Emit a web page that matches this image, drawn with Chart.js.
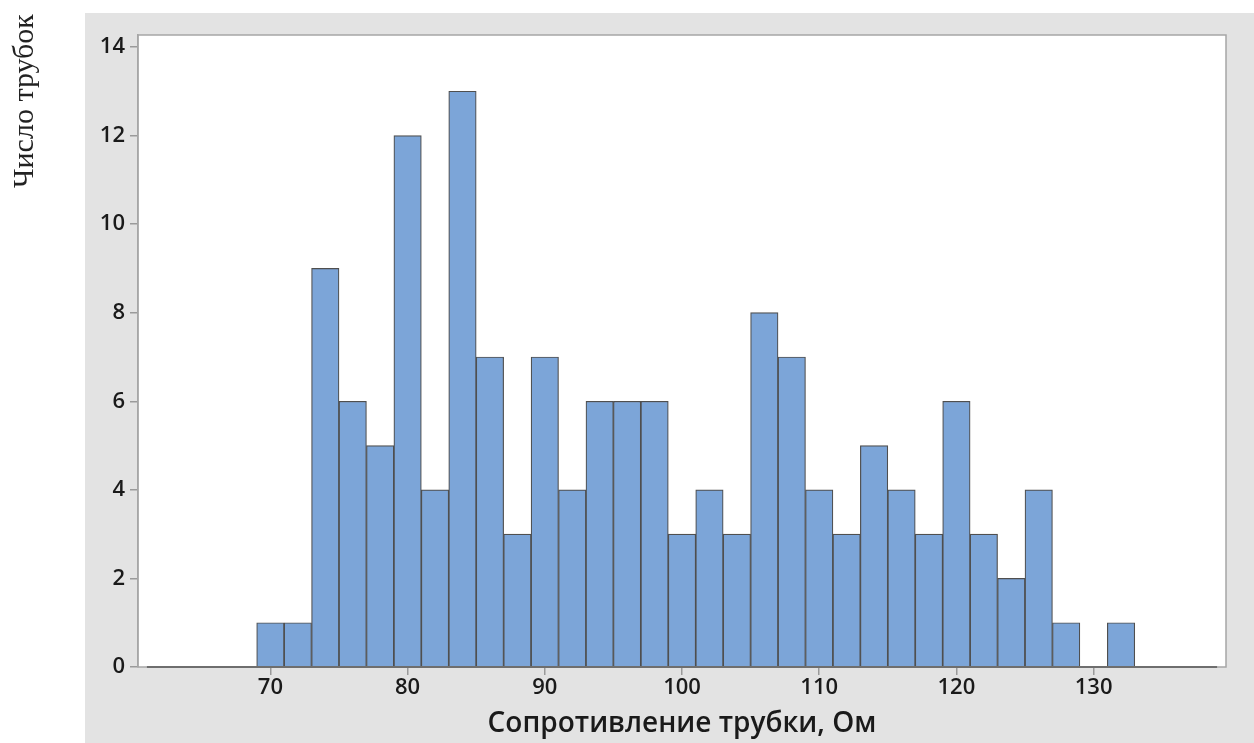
<!DOCTYPE html>
<html>
<head>
<meta charset="utf-8">
<script src="https://cdn.jsdelivr.net/npm/chart.js@4.4.1/dist/chart.umd.min.js"></script>
<style>
  body { margin: 0; background: #fff; }
  #wrap { width: 1254px; height: 743px; position: relative; }
</style>
</head>
<body>
<div id="wrap"><canvas id="histChart"></canvas></div>
<script>
// bin centres (bin width 2 Ом) and counts
const binCenters = [70, 72, 74, 76, 78, 80, 82, 84, 86, 88, 90, 92, 94, 96, 98, 100,
                    102, 104, 106, 108, 110, 112, 114, 116, 118, 120, 122, 124, 126, 128, 130, 132];
const counts = [1, 1, 9, 6, 5, 12, 4, 13, 7, 3, 7, 4, 6, 6, 6, 3,
                4, 3, 8, 7, 4, 3, 5, 4, 3, 6, 3, 2, 4, 1, 0, 1];
const xTicks = [70, 80, 90, 100, 110, 120, 130];
const yTicks = [0, 2, 4, 6, 8, 10, 12, 14];
const xTitle = 'Сопротивление трубки, Ом';
const yTitle = 'Число трубок';

const tickFont = { family: '"Open Sans", "Noto Sans", sans-serif', size: 22, weight: '600' };

// grey backdrop, white plot area, frame, y label
const backdrop = {
    id: 'backdrop',
    beforeDraw(chart) {
        const { ctx, chartArea: a } = chart;
        ctx.save();
        ctx.fillStyle = '#e3e3e3';
        ctx.fillRect(85, 13, chart.width - 85, chart.height - 13);
        ctx.fillStyle = '#ffffff';
        ctx.fillRect(a.left, a.top, a.right - a.left, a.bottom - a.top);
        ctx.strokeStyle = '#a6a6a6';
        ctx.lineWidth = 1.5;
        ctx.strokeRect(a.left, a.top, a.right - a.left, a.bottom - a.top);
        ctx.restore();
    },
    afterDatasetsDraw(chart) {
        const { ctx, chartArea: a } = chart;
        const xs = chart.scales.x;
        ctx.save();
        ctx.strokeStyle = '#6e6e6e';
        ctx.lineWidth = 2;
        ctx.beginPath();
        ctx.moveTo(xs.getPixelForValue(61), a.bottom);
        ctx.lineTo(xs.getPixelForValue(139), a.bottom);
        ctx.stroke();
        // rotated y label, top left outside the grey area
        ctx.translate(25, 101);
        ctx.rotate(-Math.PI / 2);
        ctx.font = '30px "Liberation Serif", "DejaVu Serif", serif';
        ctx.fillStyle = '#222';
        ctx.textAlign = 'center';
        ctx.textBaseline = 'middle';
        ctx.fillText(yTitle, 0, 0);
        ctx.restore();
    }
};

const ctx = document.getElementById('histChart').getContext('2d');
new Chart(ctx, {
    type: 'bar',
    data: {
        datasets: [{
            data: binCenters.map((c, i) => ({ x: c, y: counts[i] })),
            backgroundColor: '#7ca5d8',
            borderColor: '#4f4f4f',
            borderWidth: 1.2,
            barPercentage: 1,
            categoryPercentage: 1
        }]
    },
    options: {
        responsive: true,
        maintainAspectRatio: false,
        animation: false,
        layout: { padding: { left: 0, top: 35, right: 28, bottom: 0 } },
        plugins: {
            legend: { display: false },
            tooltip: { enabled: false }
        },
        scales: {
            x: {
                type: 'linear',
                offset: false,
                min: 60.35,
                max: 139.65,
                afterFit: s => { s.height = 76; },
                afterBuildTicks: s => { s.ticks = xTicks.map(v => ({ value: v })); },
                ticks: { font: tickFont, color: '#1a1a1a', padding: 0, maxRotation: 0 },
                grid: { offset: false, drawOnChartArea: false, drawTicks: true, tickLength: 8, color: '#9a9a9a', lineWidth: 1.5 },
                border: { display: false },
                title: {
                    display: true,
                    text: xTitle,
                    color: '#1a1a1a',
                    font: { family: '"Open Sans", "Noto Sans", sans-serif', size: 28, weight: '600' },
                    padding: { top: 0, bottom: 2 }
                }
            },
            y: {
                min: 0,
                max: 14.27,
                afterFit: s => { s.width = 138; },
                afterBuildTicks: s => { s.ticks = yTicks.map(v => ({ value: v })); },
                ticks: { font: tickFont, color: '#1a1a1a', padding: 5 },
                grid: { drawOnChartArea: false, drawTicks: true, tickLength: 8, color: '#9a9a9a', lineWidth: 1.5 },
                border: { display: true, color: '#a6a6a6', width: 1.5 }
            }
        }
    },
    plugins: [backdrop]
});
</script>
</body>
</html>
